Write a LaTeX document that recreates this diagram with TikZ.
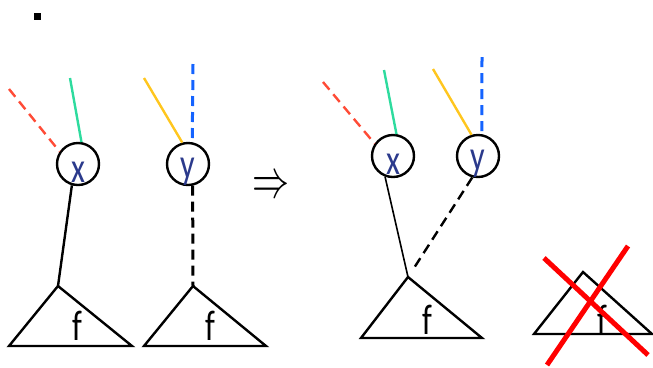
\documentclass[tikz,border=0pt]{standalone}
\usepackage{fontspec}
\setmainfont{Carlito}
\usepackage{graphicx}
\definecolor{lettblue}{HTML}{2B3A8C}
\definecolor{edgered}{HTML}{FF4B36}
\definecolor{edgegreen}{HTML}{2EDB9E}
\definecolor{edgeyellow}{HTML}{FFC61E}
\definecolor{edgeblue}{HTML}{1463FF}
\newcommand{\narrowtxt}[1]{\scalebox{0.75}[1]{#1}}
\tikzset{
  vtx/.style={draw, circle, line width=2.4bp, minimum size=42bp, inner sep=0pt},
  lett/.style={font=\fontsize{43}{45}\selectfont, text=lettblue, inner sep=0pt},
  flab/.style={font=\fontsize{43}{45}\selectfont, inner sep=0pt},
  tri/.style={line width=2.4bp, line join=miter},
  stem/.style={line width=2.4bp},
  dsh/.style={dash pattern=on 10bp off 6bp},
}
\begin{document}
\begin{tikzpicture}[x=1bp, y=-1bp]
        \useasboundingbox (0,0) rectangle (653,367);

        % Punto dell'elenco
        \fill (34,13) rectangle (41,20);

        % Nodi x e y (prima e dopo)
        \node[vtx, label={[lett, yshift=-8bp]center:\narrowtxt{x}}] (x1) at (78,164) {};
        \node[vtx, label={[lett, yshift=-8bp]center:\narrowtxt{y}}] (y1) at (188,164) {};
        \node[vtx, label={[lett, yshift=-8bp]center:\narrowtxt{x}}] (x2) at (393,156) {};
        \node[vtx, label={[lett, yshift=-8bp]center:\narrowtxt{y}}] (y2) at (478,156) {};

        % Estremi liberi degli archi colorati
        \coordinate (r1) at (9,89);
        \coordinate (g1) at (70,78);
        \coordinate (o1) at (144,78);
        \coordinate (b1) at (193,64);
        \coordinate (r2) at (323,82);
        \coordinate (g2) at (384,70);
        \coordinate (o2) at (433,69);
        \coordinate (b2) at (482,57);

        % Archi colorati
        \draw[stem, dsh, edgered] (r1) -- (x1.146);
        \draw[stem, edgegreen] (g1) -- (x1.81);
        \draw[stem, edgeyellow] (o1) -- (y1.105);
        \draw[stem, dsh, line width=3bp, edgeblue] (b1) -- (y1.79);
        \draw[stem, dsh, edgered] (r2) -- (x2.146);
        \draw[stem, edgegreen] (g2) -- (x2.81);
        \draw[stem, edgeyellow] (o2) -- (y2.107);
        \draw[stem, dsh, line width=3bp, edgeblue] (b2) -- (y2.80);

        % Sottoalberi f
        \foreach \n/\ax/\ay/\lx/\rx/\by in {1/58/286/9/132/346, 2/193/286/144/266/346,
                                          3/408/277/361/482/338, 4/583/272/534/652/334} {
            \coordinate (T\n) at (\ax,\ay);
            \draw[tri] (T\n) -- (\lx,\by) -- (\rx,\by) -- cycle;
        }
        \node[flab] (f1) at (77,326) {\narrowtxt{f}};
        \node[flab] (f2) at (210,326) {\narrowtxt{f}};
        \node[flab] (f3) at (427,320) {\narrowtxt{f}};
        \node[flab] (f4) at (602,320) {\narrowtxt{f}};

        % Collegamenti ai sottoalberi
        \draw[stem] (x1.254) -- (T1);
        \draw[stem, dsh, line width=3bp] (y1.282) -- (T2);
        \coordinate (T3d) at (414,268);
        \draw[line width=1.6bp] (x2.249) -- (T3);
        \draw[stem, dsh] (y2.255) -- (T3d);

        % Freccia di trasformazione
        \node[inner sep=0pt] (impl) at (271,187) {\resizebox{37bp}{20bp}{$\Rightarrow$}};

        % Sottoalbero eliminato
        \coordinate (c1) at (544,258);
        \coordinate (c2) at (648,355);
        \coordinate (c3) at (628,246);
        \coordinate (c4) at (547,365);
        \draw[line width=5bp, red] (c1) -- (c2);
        \draw[line width=5bp, red] (c3) -- (c4);
    \end{tikzpicture}
\end{document}
